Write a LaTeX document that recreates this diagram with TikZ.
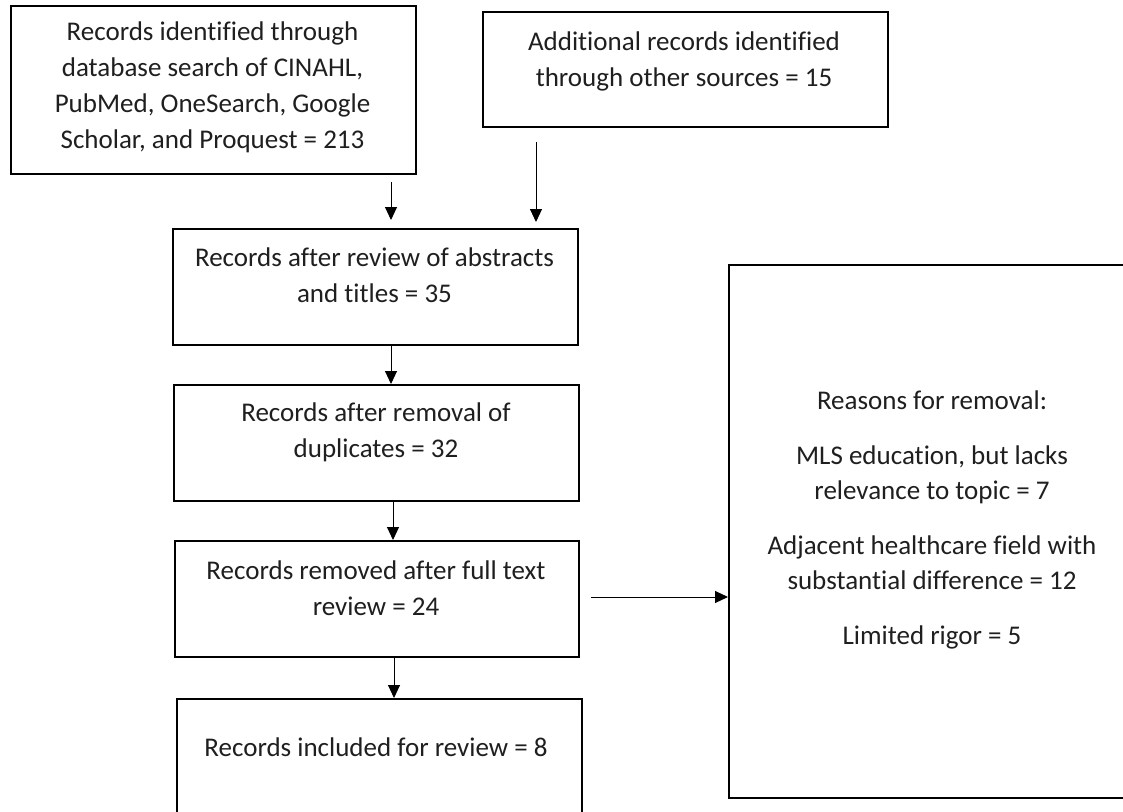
\documentclass[tikz,border=0pt]{standalone}
\usepackage{fontspec}
\setmainfont{Carlito}[Ligatures=NoCommon]
\usetikzlibrary{arrows.meta}
\begin{document}
\begin{tikzpicture}[x=1pt,y=-1pt,
  box/.style={draw, line width=2.3pt, inner sep=0pt, anchor=north west},
  txt/.style={align=center, font=\fontsize{27}{36}\selectfont, inner sep=0pt, text=black!88},
  rtxt/.style={align=center, font=\fontsize{27}{35}\selectfont, inner sep=0pt, text=black!88},
  arr/.style={line width=1pt, -{Triangle[length=13pt,width=12pt]}}]
\clip (0,0) rectangle (1123,811);
\fill[white] (0,0) rectangle (1123,811);
% boxes
\node[box, minimum width=405pt, minimum height=168pt] (b1) at (10,5) {};
\node[box, minimum width=405pt, minimum height=115pt] (b2) at (482,11) {};
\node[box, minimum width=405pt, minimum height=116pt] (b3) at (172,228) {};
\node[box, minimum width=405pt, minimum height=116pt] (b4) at (173,384) {};
\node[box, minimum width=404pt, minimum height=116pt] (b5) at (174,540) {};
\node[box, minimum width=405pt, minimum height=132pt] (b6) at (176,698) {};
\node[box, minimum width=408pt, minimum height=533pt] (br) at (728,264) {};
% texts
\node[txt] (t1) at (212.5,87) {Records identified through\\database search of CINAHL,\\PubMed, OneSearch, Google\\Scholar, and Proquest = 213};
\node[txt] (t2) at (684,61.5) {Additional records identified\\through other sources = 15};
\node[txt] (t3) at (374.5,275) {Records after review of abstracts\\and titles = 35};
\node[txt] (t4) at (376,432) {Records after removal of\\duplicates = 32};
\node[txt] (t5) at (376,588.5) {Records removed after full text\\review = 24};
\node[txt] (t6) at (376,747) {Records included for review = 8};
\node[rtxt] (tr) at (932,519.5) {Reasons for removal:\\[20pt]MLS education, but lacks\\relevance to topic = 7\\[20pt]Adjacent healthcare field with\\substantial difference = 12\\[20pt]Limited rigor = 5};
% connector columns
\coordinate (c1) at (391,0);
\coordinate (c2) at (536,0);
\coordinate (c3) at (391,0);
\coordinate (c4) at (393,0);
\coordinate (c5) at (394,0);
\coordinate (c6) at (0,597);
% connectors
\draw[arr, shorten <=7pt, shorten >=8pt] (b1.south -| c1) -- (b3.north -| c1);
\draw[arr, shorten <=14pt, shorten >=6pt] (b2.south -| c2) -- (b3.north -| c2);
\draw[arr] (b3.south -| c3) -- (b4.north -| c3);
\draw[arr] (b4.south -| c4) -- (b5.north -| c4);
\draw[arr] (b5.south -| c5) -- (b6.north -| c5);
\draw[arr, shorten <=11pt] (b5.east |- c6) -- (br.west |- c6);
\end{tikzpicture}
\end{document}
